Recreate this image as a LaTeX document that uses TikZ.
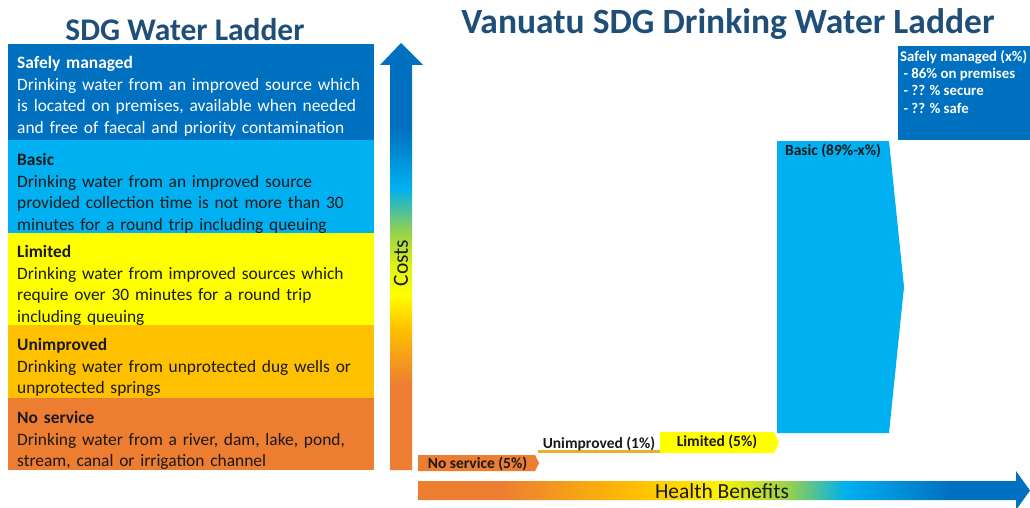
\documentclass[tikz,border=0pt]{standalone}
\usepackage{fontspec}
\setmainfont{Carlito}
\definecolor{cOrange}{HTML}{ED7D31}
\definecolor{cGold}{HTML}{FFC000}
\definecolor{cYellow}{HTML}{FFFF00}
\definecolor{cGreen}{HTML}{92D050}
\definecolor{cLBlue}{HTML}{00B0F0}
\definecolor{cDBlue}{HTML}{0070C0}
\definecolor{cTitle}{HTML}{1F4E79}
\definecolor{cLine}{HTML}{EBB02A}
\definecolor{cText}{HTML}{1A1A1A}
\pgfdeclareverticalshading{costsshade}{100bp}{color(0bp)=(cOrange); color(25bp)=(cOrange); color(35bp)=(cOrange); color(41.5bp)=(cGold); color(45.5bp)=(cYellow); color(49bp)=(cYellow!70!cGreen); color(53bp)=(cGreen); color(58bp)=(cLBlue); color(65bp)=(cDBlue); color(75bp)=(cDBlue); color(100bp)=(cDBlue)}
\pgfdeclarehorizontalshading{healthshade}{100bp}{color(0bp)=(cOrange); color(25bp)=(cOrange); color(31.7bp)=(cOrange); color(43bp)=(cGold); color(49.7bp)=(cYellow!80!cGold); color(55.4bp)=(cGreen); color(59.9bp)=(cLBlue); color(68.5bp)=(cDBlue); color(75bp)=(cDBlue); color(100bp)=(cDBlue)}
\begin{document}
\begin{tikzpicture}[x=1pt,y=-1pt,
  ladderbox/.style={anchor=north west, inner sep=0pt, outer sep=0pt, minimum width=366pt},
  laddertext/.style={anchor=north west, inner sep=0pt, align=left, text width=360pt, font=\fontsize{17.4}{21.7}\selectfont, text=cText},
  barlabel/.style={font=\fontsize{15.5}{17}\selectfont\bfseries, text=cText, inner sep=0pt},
  titletext/.style={text=cTitle, font=\bfseries, inner sep=0pt}]
\useasboundingbox (0,0) rectangle (1030,508);

% titles
\node[titletext, font=\fontsize{31.5}{34}\selectfont\bfseries] (t1) at (185,30) {SDG Water Ladder};
\node[titletext, font=\fontsize{35.5}{38}\selectfont\bfseries] (t2) at (728,24) {Vanuatu SDG Drinking Water Ladder};

% left ladder boxes
\node[ladderbox, fill=cDBlue, minimum height=96pt] (sm) at (8,44) {};
\node[ladderbox, fill=cLBlue, minimum height=93pt] (ba) at (8,140) {};
\node[ladderbox, fill=cYellow, minimum height=92pt] (li) at (8,233) {};
\node[ladderbox, fill=cGold, minimum height=73pt] (un) at (8,325) {};
\node[ladderbox, fill=cOrange, minimum height=72pt] (ns) at (8,398) {};

\node[laddertext, text=white] (smt) at (17,56) {\textbf{Safely managed}\\Drinking water from an improved source which\\is located on premises, available when needed\\and free of faecal and priority contamination};
\node[laddertext] (bat) at (17,153) {\textbf{Basic}\\Drinking water from an improved source\\provided collection time is not more than 30\\minutes for a round trip including queuing};
\node[laddertext] (lit) at (17,245) {\textbf{Limited}\\Drinking water from improved sources which\\require over 30 minutes for a round trip\\including queuing};
\node[laddertext] (unt) at (17,338) {\textbf{Unimproved}\\Drinking water from unprotected dug wells or\\unprotected springs};
\node[laddertext] (nst) at (17,411) {\textbf{No service}\\Drinking water from a river, dam, lake, pond,\\stream, canal or irrigation channel};

% costs arrow
\shade[shading=costsshade] (390,470) -- (390,65) -- (380,65) -- (401,43) -- (423,65) -- (412,65) -- (412,470) -- cycle;
\node[rotate=90, font=\fontsize{21.5}{23}\selectfont, text=cText, inner sep=0pt] (costs) at (401,263) {Costs};

% health benefits arrow
\shade[shading=healthshade] (418,481) -- (1016,481) -- (1016,471) -- (1030,490.5) -- (1016,510) -- (1016,500) -- (418,500) -- cycle;
\node[font=\fontsize{21.5}{23}\selectfont, text=cText, inner sep=0pt] (health) at (722,491) {Health Benefits};

% right bars
\fill[cOrange] (418,455) -- (535,455) -- (539,463) -- (535,471) -- (418,471) -- cycle;
\node[barlabel] (nsl) at (477.5,463.5) {No service (5\%)};

\draw[cLine, line width=3pt] (538,451) -- (660,451);
\node[barlabel] (unl) at (599,444) {Unimproved (1\%)};

\fill[cYellow] (660,432) -- (774,432) -- (779,442.5) -- (774,453) -- (660,453) -- cycle;
\node[barlabel] (lil) at (717,442) {Limited (5\%)};

\fill[cLBlue] (777,141) -- (889,141) -- (904,287) -- (889,433) -- (777,433) -- cycle;
\node[barlabel] (bal) at (833,151) {Basic (89\%-x\%)};

\fill[cDBlue] (898,46) rectangle (1030,140);
\node[barlabel, text=white, anchor=north west, align=left, font=\fontsize{14.8}{17.3}\selectfont\bfseries] (sml) at (900,50) {Safely managed (x\%)\\\ - 86\% on premises\\\ - ?? \% secure\\\ - ?? \% safe};
\end{tikzpicture}
\end{document}
